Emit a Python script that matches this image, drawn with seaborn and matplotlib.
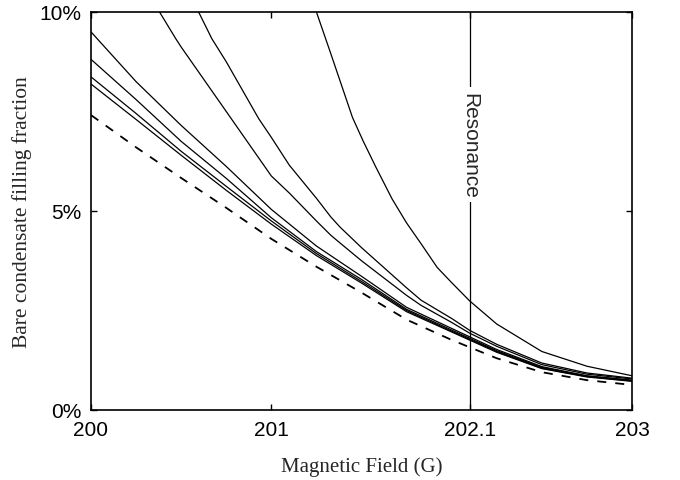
import matplotlib
matplotlib.use("Agg")
import matplotlib.pyplot as plt
import seaborn as sns
import pandas as pd
from matplotlib.ticker import FixedLocator, FixedFormatter

# ---- data (filling fraction in %) ----
x_a = [201.10, 201.20, 201.25, 201.33, 201.45, 201.51, 201.58, 201.67, 201.75, 201.83, 201.92, 202.0, 202.1, 202.25, 202.5, 202.75, 203.0]
y_a = [12.2, 10.7, 10.0, 8.95, 7.35, 6.75, 6.10, 5.30, 4.70, 4.18, 3.58, 3.20, 2.74, 2.16, 1.47, 1.10, 0.86]

x_b = [200.40, 200.50, 200.60, 200.67, 200.75, 200.93, 201.0, 201.1, 201.25, 201.33, 201.38, 201.5, 201.75, 201.83, 202.0, 202.1, 202.25, 202.5, 202.75, 203.0]
y_b = [11.4, 10.65, 9.97, 9.33, 8.75, 7.32, 6.85, 6.15, 5.32, 4.85, 4.60, 4.08, 3.07, 2.76, 2.30, 2.00, 1.65, 1.18, 0.93, 0.80]

x_c = [200.20, 200.30, 200.38, 200.47, 200.5, 200.75, 201.0, 201.1, 201.25, 201.33, 201.38, 201.5, 201.75, 201.83, 202.0, 202.1, 202.25, 202.5, 202.75, 203.0]
y_c = [11.3, 10.6, 10.0, 9.33, 9.12, 7.50, 5.88, 5.45, 4.75, 4.39, 4.20, 3.75, 2.88, 2.63, 2.20, 1.93, 1.60, 1.14, 0.90, 0.78]

x_grid = [200.0, 200.25, 200.5, 200.75, 201.0, 201.25, 201.5, 201.75, 202.0, 202.25, 202.5, 202.75, 203.0]
y_d = [9.50, 8.25, 7.15, 6.12, 5.04, 4.12, 3.36, 2.58, 2.05, 1.52, 1.09, 0.86, 0.75]
y_e = [8.81, 7.80, 6.75, 5.82, 4.83, 3.98, 3.28, 2.53, 2.01, 1.49, 1.07, 0.85, 0.74]
y_f = [8.37, 7.45, 6.50, 5.62, 4.75, 3.93, 3.23, 2.50, 1.98, 1.47, 1.05, 0.84, 0.73]
y_g = [8.19, 7.30, 6.40, 5.52, 4.67, 3.88, 3.19, 2.47, 1.96, 1.45, 1.04, 0.83, 0.72]
y_bare = [7.41, 6.60, 5.83, 5.08, 4.30, 3.60, 2.95, 2.27, 1.76, 1.30, 0.95, 0.75, 0.63]

x_ticks = [200, 201, 202.1, 203]
x_tick_labels = ["200", "201", "202.1", "203"]
y_ticks = [0, 5, 10]
y_tick_labels = ["0%", "5%", "10%"]
resonance = 202.1

sns.set_style("ticks")
plt.rcParams["font.family"] = ["Liberation Sans", "DejaVu Sans"]

fig = plt.figure(figsize=(6.8, 4.81), dpi=100)
ax = fig.add_axes([91 / 680, 1 - 411 / 481, (632 - 91) / 680, (411 - 13) / 481])

solid = [(x_a, y_a), (x_b, y_b), (x_c, y_c), (x_grid, y_d), (x_grid, y_e), (x_grid, y_f), (x_grid, y_g)]
for xs, ys in solid:
    df = pd.DataFrame({"B": xs, "f": ys})
    sns.lineplot(data=df, x="B", y="f", ax=ax, color="black", lw=0.9,
                 estimator=None, sort=True)

df_bare = pd.DataFrame({"B": x_grid, "f": y_bare})
sns.lineplot(data=df_bare, x="B", y="f", ax=ax, color="black", lw=1.3,
             estimator=None, linestyle=(0, (5, 5)))

ax.axvline(resonance, color="black", lw=0.9)
ax.text(resonance, 6.67, "Resonance", rotation=-90, ha="center", va="center",
        fontsize=15, bbox=dict(facecolor="white", edgecolor="none", pad=3))

ax.set_xlim(200, 203)
ax.set_ylim(0, 10)
ax.xaxis.set_major_locator(FixedLocator(x_ticks))
ax.xaxis.set_major_formatter(FixedFormatter(x_tick_labels))
ax.yaxis.set_major_locator(FixedLocator(y_ticks))
ax.yaxis.set_major_formatter(FixedFormatter(y_tick_labels))
ax.tick_params(direction="in", length=4, width=1, top=True, right=True,
               labelsize=15, colors="black", pad=7)
for s in ax.spines.values():
    s.set_visible(True)
    s.set_linewidth(1.2)
    s.set_color("black")

ax.set_xlabel("")
ax.set_ylabel("")
fig.text(361.5 / 680, 1 - 467 / 481, "Magnetic Field (G)", ha="center", va="center",
         fontsize=15, family=["Liberation Serif", "DejaVu Serif"])
fig.text(22 / 680, 1 - 212 / 481, "Bare condensate filling fraction", ha="center", va="center",
         rotation=90, fontsize=15.5, family=["Liberation Serif", "DejaVu Serif"])

fig.savefig("out.png", dpi=100, facecolor="white")
